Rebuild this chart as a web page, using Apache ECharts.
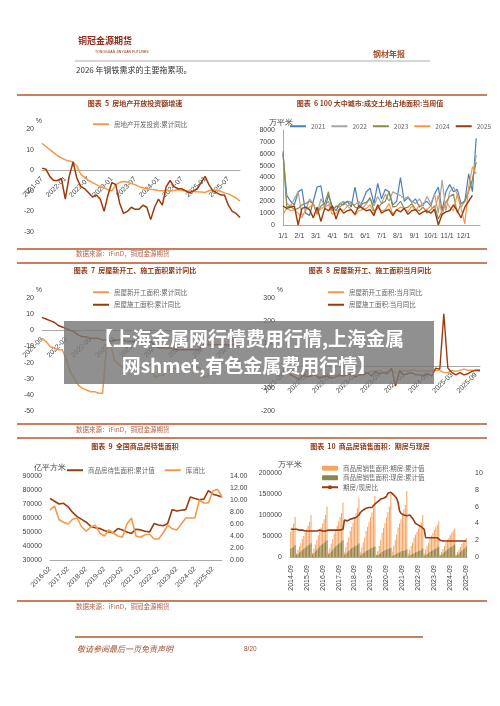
<!DOCTYPE html>
<html><head><meta charset="utf-8">
<script src="https://cdn.jsdelivr.net/npm/echarts@6/dist/echarts.min.js"></script>
<style>html,body{margin:0;padding:0;background:#fff}#c{width:500px;height:706px}</style>
</head><body><div id="c"></div>
<script>
// ---------- Chart 5 ----------
const invest5 = [13,11.5,10,8.5,7,6, 5,4.5,4,2,-2,-3.5,-5,-6,-7,-8,-8.5,-9.5, -10,-7,-6,-5.5,-5.7,-6.5,-7,-8,-8.5,-9,-9.2,-9.5, -9.8,-10,-10,-10,-9.8,-9.5,-9.8,-10,-10.2,-10.3,-10.5,-10.6, -10.8,-10,-9.5,-9.8,-10.2,-11,-11.5,-12.5,-13.5,-15];
const invest5b = [1,0.5,-3,-5,-5,-4, -14,-3,4,-4,-8,-9,-11,-13,-12,-14,-20,-12, -6,-7,-16,-21,-20,-18,-19,-19,-17,-18,-24,-18, -14,-17,-8,-5,-8,-9,-9,-10,-11,-10,-9,-6, -3,-7,-10,-11,-12,-12,-17,-20,-21,-23];
// ---------- Chart 6 ----------
const land2021 = [6000,2500,2000,1700,2800,3000,1000,800,2000,3200,3300,1400,2500,1600,1200,1800,1700,2000,1500,3200,1500,2000,2800,3100,1800,3500,2200,3000,2800,1700,2000,4000,2000,2300,1900,2200,1500,1800,2000,1600,2600,3200,1200,2800,3400,2800,3000,1800,2000,4300,2800,7300];
const land2022 = [6000,1800,1600,2200,2800,800,1200,2200,1800,900,2200,1600,2000,1200,1500,1800,2000,1600,1800,1700,2000,1400,1800,2200,1600,2400,1800,2600,2000,2800,2600,2500,2200,2400,2000,1800,2200,1600,2400,1800,2600,1000,3800,1200,2800,3200,2600,1500,2000,2800,3800,5900];
const land2023 = [6200,1500,1600,1300,1400,1700,1800,2000,1800,900,1600,1800,2800,1200,1600,1500,1800,2000,1900,1500,1400,1800,1900,2300,1200,1400,1800,2000,2800,1500,1600,2000,1400,1500,1800,1300,1200,1500,1000,1300,1600,500,1200,1900,2400,2600,1000,1800,2000,2900,3800,5300];
const land2024 = [900,1400,1200,1300,1000,600,1300,1500,1800,1000,1400,1500,1700,900,1000,1400,1200,1600,1300,800,1200,1300,1400,1700,1000,1500,1200,1300,1800,900,1300,1500,1400,1100,1600,1200,1700,1400,1300,1600,1200,2500,800,2000,1500,1200,2600,1400,100,3200,4900,4300];
const land2025 = [1600,1400,1500,1600,0,1400,1500,1300,600,1500,300,1400,1200,1600,500,1400,1000,1200,1300,900,1600,1400,1200,1300,800,1700,1000,1200,1300,800,1300,1100,1400,900,1200,1300,900,1100,1200,1000,1300,0,900,1100,1200,1700,1200,600,1500,2000,2500];
const weekTicks = ['1/1','2/1','3/1','4/1','5/1','6/1','7/1','8/1','9/1','10/1','11/1','12/1',''];
// ---------- Chart 7 / 8 ----------
const newCum7 = [-5,-7,-10,-11, -12,-12,-18,-26,-30,-34,-36,-37,-38,-38,-39,-39, -9,-9,-19,-21,-23,-24,-24,-24,-23,-23,-21,-21, -29,-28,-28,-25,-24,-24,-23,-23,-23,-22,-23,-23, -29,-29,-24,-23,-22,-20,-20,-20,-19,-19];
const conCum7 = [8,7,6,5, 3,2,1,0,-1,-3,-4,-4,-5,-5,-5,-6, -6,-7,-6,-6,-6,-7,-7,-7,-7,-7,-7,-7, -10,-11,-11,-11,-11,-12,-12,-12,-12,-12,-12,-12, -9,-9,-9,-9,-9,-9,-9,-9,-9,-9];
const newMon8 = [-10,-30,-20,-30, -40,-40,-20,-45,-40,-50,-45,-45,-45,-40,-50,-45, -10,-10,-30,-30,-25,-30,-25,-25,-20,-30,-25,-20, -30,-30,-20,-25,-20,-20,-25,-20,-25,-20,-20,-20, -30,-30,-20,-25,-20,-15,-20,-20,-20,-25];
const conMon8 = [-20,-30,-40,-50, -60,-40,-50,-45,-40,-55,-50,-45,-55,-50,-40,-45, -40,-35,-50,-40,-40,-30,-45,-25,-35,-30,-35,-10, -90,-20,-40,-35,-30,-40,-40,-45,-35,-45,-10,-15, 230,-10,-30,-40,-30,-40,-35,-25,-20,-20];
// ---------- Chart 9 (quarterly) ----------
const stock9 = [74000,72000,70000,70500, 68000,64000,61000,59000, 57000,54000,53000,52500, 51000,50000,49500,52500, 51500,50000,49000,52000, 51500,50500,50000,56000, 55000,54500,56000,66000, 65000,65500,66000,75000, 74000,73000,73500,79500, 77000,76000,75000];
const ratio9 = [8.3,9.0,6.7,6.3, 6.0,6.8,7.0,5.5, 4.8,5.5,5.8,4.5, 4.0,5.0,4.5,4.0, 3.8,6.0,7.0,4.0, 3.8,4.2,4.3,3.5, 3.5,4.5,5.8,5.2, 5.0,6.0,7.0,7.0, 7.0,10.0,9.5,9.5, 11.5,11.8,10.5];
// ---------- Chart 10 (by year, cumulative Feb..Dec; 2014 from Sep) ----------
const futY = {
 2014:[60000,70000,80000,95000],
 2015:[9000,17000,25000,33000,43000,50000,58000,67000,75000,84000,100000],
 2016:[10000,20000,30000,40000,52000,61000,70000,80000,90000,100000,120000],
 2017:[10000,21000,32000,43000,56000,65000,74000,85000,95000,105000,130000],
 2018:[11000,23000,35000,47000,62000,72000,82000,94000,105000,116000,140000],
 2019:[11000,23000,35000,47000,62000,72000,83000,95000,106000,118000,145000],
 2020:[6000,14000,26000,40000,58000,69000,81000,94000,107000,120000,150000],
 2021:[13000,27000,40000,53000,70000,80000,90000,102000,113000,124000,157000],
 2022:[9000,18000,26000,34000,46000,53000,60000,68000,75000,82000,100000],
 2023:[9000,18000,26000,34000,45000,51000,57000,64000,71000,77000,85000],
 2024:[6000,12000,19000,26000,35000,41000,46000,52000,58000,63000,68000],
 2025:[6000,12000,18000,24000,31000,36000,40000,45000]};
const spotY = {
 2014:[20000,22000,25000,28000],
 2015:[4000,7000,10000,13000,16000,19000,22000,25000,28000,30000,33000],
 2016:[5000,9000,13000,17000,21000,25000,28000,31000,34000,37000,40000],
 2017:[5000,9000,13000,17000,21000,25000,28000,31000,34000,37000,40000],
 2018:[4000,8000,11000,14000,18000,21000,23000,25000,27000,29000,32000],
 2019:[3000,6000,9000,11000,14000,16000,18000,20000,22000,23000,25000],
 2020:[3000,5000,7000,9000,12000,14000,16000,17000,19000,20000,22000],
 2021:[2000,4000,6000,8000,10000,11000,13000,14000,15000,16000,18000],
 2022:[2000,4000,6000,7000,9000,11000,12000,14000,15000,17000,20000],
 2023:[3000,5000,7000,9000,12000,14000,16000,18000,20000,22000,25000],
 2024:[3000,6000,9000,12000,15000,18000,20000,23000,25000,27000,30000],
 2025:[3000,6000,9000,12000,15000,18000,21000,25000]};
const rateY = {
 2014:[3.3,3.2,3.3,3.3],
 2015:[3.3,3.3,3.2,3.3,3.2,3.2,3.1,3.0,3.1,3.1,3.1],
 2016:[3.1,3.1,3.2,3.1,3.1,3.2,3.1,3.1,3.2,3.1,3.1],
 2017:[3.2,3.1,3.2,3.2,3.2,3.2,3.2,3.2,3.2,3.2,3.3],
 2018:[4.4,4.4,4.3,4.4,4.5,4.5,4.6,4.7,4.7,4.8,5.0],
 2019:[5.3,5.5,5.6,5.5,5.8,5.7,5.9,6.0,5.9,6.1,6.3],
 2020:[6.4,6.6,6.8,6.9,6.8,7.0,7.0,7.2,7.6,7.8,7.7],
 2021:[7.5,7.4,7.2,7.0,6.5,5.5,5.2,5.1,5.0,5.0,4.9],
 2022:[4.9,5.0,4.8,4.6,4.3,4.0,3.9,3.8,3.7,3.6,3.5],
 2023:[3.3,2.3,2.3,2.3,2.3,2.3,2.3,2.3,2.4,2.3,2.2],
 2024:[2.0,1.9,1.9,1.9,1.9,1.9,1.9,1.9,1.9,1.9,1.9],
 2025:[1.9,1.9,1.9,1.9,1.9,1.9,1.9,1.9]};

function monthList(y0,m0,n){const r=[];let y=y0,m=m0;for(let i=0;i<n;i++){r.push(y+'-'+String(m).padStart(2,'0'));m++;if(m>12){m=1;y++;}}return r;}
const cat5 = monthList(2021,7,invest5.length);
const cat7 = monthList(2021,9,newCum7.length);
const cat9 = monthList(2016,2,stock9.length*3).filter((_,i)=>i%3===0);
const cat10=[],fut10=[],spot10=[],rate10=[];
Object.keys(futY).forEach(y=>{const n=futY[y].length;for(let i=0;i<n;i++){const m=(y==='2014')?9+i:2+i;cat10.push(y+'-'+String(m).padStart(2,'0'));fut10.push(futY[y][i]);spot10.push(spotY[y][i]);rate10.push(rateY[y][i]);}});

const OR='#f39a4b', BR='#9c3a0c', RULE='#b4542a', TT='#8e3b1a';
const lab={fontSize:7,color:'#444',fontFamily:'Liberation Sans'};
const plain=v=>String(v);
const ax={axisLine:{lineStyle:{color:'#aaa'}},axisTick:{show:false},splitLine:{show:false},axisLabel:{...lab,formatter:plain}};
const chart=echarts.init(document.getElementById('c'),null,{renderer:'canvas'});
function wk(a){return a.map((v,i)=>[i,v]);}
function ln(name,x,y,data,color,w){return {name,type:'line',xAxisIndex:x,yAxisIndex:y,data,symbol:'none',lineStyle:{color,width:w||1.4},itemStyle:{color},animation:false};}
const legTxt={fontSize:6.5,color:'#666',fontFamily:'Noto Sans CJK SC'};
const zx={axisLine:{onZero:false,lineStyle:{color:'#aaa'}},axisTick:{show:false},splitLine:{show:false}};

const option={
 animation:false,
 grid:[
  {left:42,right:260,top:129,height:103},
  {left:283,right:20,top:130,height:95},
  {left:42,right:260,top:298,height:113},
  {left:283,right:20,top:298,height:113},
  {left:50,right:278,top:476,height:84},
  {left:290,right:33,top:473,height:84}],
 xAxis:[
  {gridIndex:0,type:'category',data:cat5,boundaryGap:false,offset:-62,...zx,axisLabel:{...lab,rotate:45,interval:5}},
  {gridIndex:1,type:'value',min:0,max:52,interval:52/12,...zx,axisLabel:{...lab,formatter:v=>weekTicks[Math.round(v/(52/12))]||''}},
  {gridIndex:2,type:'category',data:cat7,boundaryGap:false,offset:-80.7,...zx,axisLabel:{...lab,rotate:45,interval:5}},
  {gridIndex:3,type:'category',data:cat7,boundaryGap:false,offset:-45.2,...zx,axisLabel:{...lab,rotate:45,interval:5}},
  {gridIndex:4,type:'category',data:cat9,boundaryGap:false,...zx,axisLabel:{...lab,rotate:45,interval:3}},
  {gridIndex:5,type:'category',data:cat10,...zx,axisLabel:{...lab,rotate:90,interval:(i,v)=>v.endsWith('-09')}}],
 yAxis:[
  {gridIndex:0,min:-30,max:20,interval:10,...ax,name:'%',nameGap:4,nameTextStyle:{fontSize:7,color:'#444',align:'right'}},
  {gridIndex:1,min:0,max:8000,interval:1000,...ax,name:'万平米',nameGap:3,nameTextStyle:{fontSize:8,color:'#444',align:'right',padding:[0,-10,0,0]}},
  {gridIndex:2,min:-50,max:20,interval:10,...ax,name:'%',nameGap:4,nameTextStyle:{fontSize:7,color:'#444',align:'right'}},
  {gridIndex:3,min:-200,max:300,interval:100,...ax,name:'%',nameGap:4,nameTextStyle:{fontSize:7,color:'#444',align:'right'}},
  {gridIndex:4,min:30000,max:90000,interval:10000,...ax,name:'亿平方米',nameGap:4,nameTextStyle:{fontSize:8,color:'#444',align:'center'}},
  {gridIndex:4,position:'right',min:0,max:14,interval:2,...ax,axisLabel:{...lab,formatter:v=>v.toFixed(2)}},
  {gridIndex:5,min:0,max:200000,interval:50000,...ax,name:'万平米',nameGap:4,nameTextStyle:{fontSize:8,color:'#444',align:'center'}},
  {gridIndex:5,position:'right',min:0,max:10,interval:2,...ax}],
 legend:[
  {data:['房地产开发投资:累计同比'],left:88,top:116,itemWidth:16,itemHeight:2,icon:'rect',textStyle:legTxt},
  {data:['2021','2022','2023','2024','2025'],left:285,top:118,itemWidth:16,itemHeight:2,itemGap:6,icon:'rect',textStyle:{...legTxt,fontSize:6.5}},
  {data:['房屋新开工面积:累计同比','房屋施工面积:累计同比'],orient:'vertical',left:88,top:284,itemWidth:16,itemHeight:2,itemGap:6,icon:'rect',textStyle:legTxt},
  {data:['房屋新开工面积:当月同比','房屋施工面积:当月同比'],orient:'vertical',left:323,top:284,itemWidth:16,itemHeight:2,itemGap:6,icon:'rect',textStyle:legTxt},
  {data:['商品房待售面积:累计值','库消比'],left:62,top:462,itemWidth:16,itemHeight:2,itemGap:10,icon:'rect',textStyle:legTxt},
  {data:['商品房销售面积:期房:累计值','商品房销售面积:现房:累计值','期房/现房比'],orient:'vertical',left:316,top:460,itemWidth:16,itemHeight:5,itemGap:3,textStyle:legTxt}],
 series:[
  ln('房地产开发投资:累计同比',0,0,invest5,OR,1.5),
  ln('brown5',0,0,invest5b,BR,1.5),
  ln('2021',1,1,wk(land2021),'#4a7ebb',1.2),
  ln('2022',1,1,wk(land2022),'#a5a5a5',1.2),
  ln('2023',1,1,wk(land2023),'#8d8a45',1.2),
  ln('2024',1,1,wk(land2024),'#f79646',1.2),
  ln('2025',1,1,wk(land2025),BR,1.4),
  ln('房屋新开工面积:累计同比',2,2,newCum7,OR,1.5),
  ln('房屋施工面积:累计同比',2,2,conCum7,BR,1.5),
  ln('房屋新开工面积:当月同比',3,3,newMon8,OR,1.4),
  ln('房屋施工面积:当月同比',3,3,conMon8,BR,1.4),
  ln('商品房待售面积:累计值',4,4,stock9,BR,1.6),
  ln('库消比',4,5,ratio9,OR,1.6),
  {name:'商品房销售面积:期房:累计值',type:'bar',xAxisIndex:5,yAxisIndex:6,data:fut10,barWidth:'70%',itemStyle:{color:'#f5a462'}},
  {name:'商品房销售面积:现房:累计值',type:'bar',xAxisIndex:5,yAxisIndex:6,data:spot10,barWidth:'70%',barGap:'-100%',itemStyle:{color:'#8b8650'}},
  ln('期房/现房比',5,7,rate10,BR,1.6)
 ],
 graphic:[
  {type:'text',left:78,top:36,style:{text:'铜冠金源期货',fontSize:9,fontWeight:'bold',fill:'#8e2a1a',fontFamily:'Noto Sans CJK SC'}},
  {type:'text',left:95,top:50,style:{text:'TONGGUAN JINYUAN FUTURES',fontSize:3.5,fill:'#8e2a1a'}},
  {type:'text',left:373,top:50,style:{text:'钢材年报',fontSize:8,fontWeight:'bold',fill:'#a0522d',fontFamily:'Noto Sans CJK SC'}},
  {type:'line',shape:{x1:75,y1:61,x2:430,y2:61},style:{stroke:'#999',lineWidth:0.8}},
  {type:'text',left:76,top:66,style:{text:'2026 年钢铁需求的主要拖累项。',fontSize:8,fill:'#333',fontFamily:'Noto Sans CJK SC'}},
  ...[95,249,263,424,438,601].map(y=>({type:'line',shape:{x1:17,y1:y,x2:487,y2:y},style:{stroke:RULE,lineWidth:1.3}})),
  {type:'text',x:135,y:103,style:{text:'图表  5  房地产开放投资额增速',fontSize:7,fontWeight:'bold',fill:TT,align:'center',verticalAlign:'middle',fontFamily:'Noto Sans CJK SC'}},
  {type:'text',x:370,y:103,style:{text:'图表  6 100 大中城市:成交土地占地面积:当周值',fontSize:7,fontWeight:'bold',fill:TT,align:'center',verticalAlign:'middle',fontFamily:'Noto Sans CJK SC'}},
  {type:'text',x:135,y:270,style:{text:'图表  7  房屋新开工、施工面积累计同比',fontSize:7,fontWeight:'bold',fill:TT,align:'center',verticalAlign:'middle',fontFamily:'Noto Sans CJK SC'}},
  {type:'text',x:370,y:270,style:{text:'图表  8  房屋新开工、施工面积当月同比',fontSize:7,fontWeight:'bold',fill:TT,align:'center',verticalAlign:'middle',fontFamily:'Noto Sans CJK SC'}},
  {type:'text',x:135,y:446,style:{text:'图表  9  全国商品房待售面积',fontSize:7,fontWeight:'bold',fill:TT,align:'center',verticalAlign:'middle',fontFamily:'Noto Sans CJK SC'}},
  {type:'text',x:370,y:446,style:{text:'图表  10  商品房销售面积：期房与现房',fontSize:7,fontWeight:'bold',fill:TT,align:'center',verticalAlign:'middle',fontFamily:'Noto Sans CJK SC'}},
  ...[254,430,607].map(y=>({type:'text',left:76,top:y-4,style:{text:'数据来源：iFinD，铜冠金源期货',fontSize:6.5,fill:'#b0624a',fontFamily:'Noto Sans CJK SC'}})),
  {type:'line',shape:{x1:75,y1:637,x2:423,y2:637},style:{stroke:RULE,lineWidth:1.5}},
  {type:'text',left:77,top:645,style:{text:'敬请参阅最后一页免责声明',fontSize:8,fontStyle:'italic',fill:'#a0522d',fontFamily:'Noto Sans CJK SC'}},
  {type:'text',left:244,top:646,style:{text:'8/20',fontSize:6.5,fill:'#a0522d'}},
  {type:'rect',shape:{x:64,y:321,width:370,height:63},style:{fill:'rgba(120,120,120,0.82)'},z:100},
  {type:'text',x:249,y:352,z:101,style:{text:'【上海金属网行情费用行情,上海金属\n网shmet,有色金属费用行情】',fontSize:19,lineHeight:27,fontWeight:'bold',fill:'#fff',align:'center',verticalAlign:'middle',fontFamily:'Noto Sans CJK SC'}}
 ]
};
chart.setOption(option);
</script></body></html>
